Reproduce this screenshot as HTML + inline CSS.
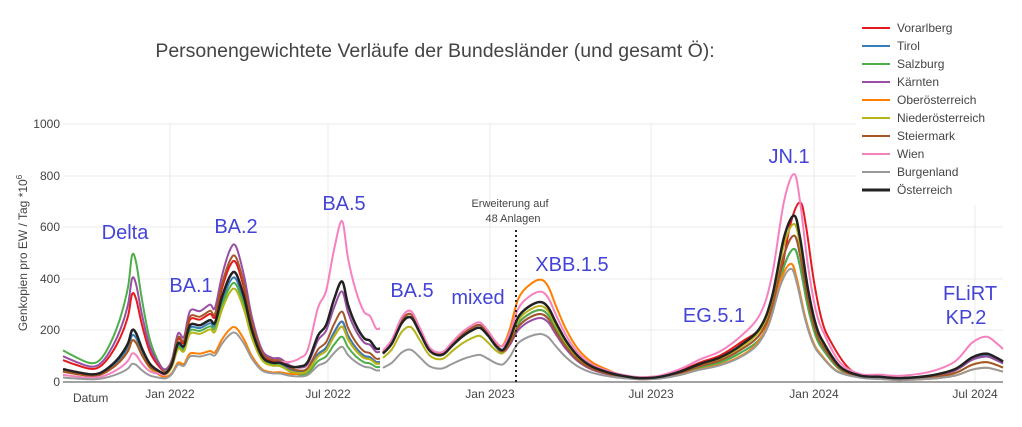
<!DOCTYPE html>
<html><head><meta charset="utf-8"><style>
body{margin:0;background:#fff;width:1022px;height:422px;overflow:hidden}
svg text{font-family:"Liberation Sans","DejaVu Sans",sans-serif}
</style></head><body>
<svg id="s" width="1022" height="422" xmlns="http://www.w3.org/2000/svg">
<rect width="1022" height="422" fill="#fff"/>
<g stroke="#ebebeb" stroke-width="1">
<line x1="63" x2="1003" y1="124" y2="124"/><line x1="63" x2="1003" y1="176" y2="176"/>
<line x1="63" x2="1003" y1="227" y2="227"/><line x1="63" x2="1003" y1="279" y2="279"/>
<line x1="63" x2="1003" y1="330" y2="330"/>
<line x1="170" x2="170" y1="124" y2="382"/><line x1="328" x2="328" y1="124" y2="382"/>
<line x1="490" x2="490" y1="124" y2="382"/><line x1="651" x2="651" y1="124" y2="382"/>
<line x1="814" x2="814" y1="124" y2="382"/><line x1="975" x2="975" y1="124" y2="382"/>
</g>
<line x1="63" x2="1003" y1="382" y2="382" stroke="#444" stroke-width="1"/>
<g id="series" fill="none" stroke-width="2" stroke-linejoin="round"></g>
<line x1="516" x2="516" y1="230" y2="382" stroke="#222" stroke-width="2" stroke-dasharray="2,3"/>
<g font-size="12" fill="#444" text-anchor="end">
<text x="60" y="386">0</text><text x="60" y="334">200</text><text x="60" y="283">400</text>
<text x="60" y="231">600</text><text x="60" y="180">800</text><text x="60" y="128">1000</text>
</g>
<g font-size="12" fill="#444" text-anchor="middle">
<text x="170" y="398">Jan 2022</text><text x="328" y="398">Jul 2022</text>
<text x="490" y="398">Jan 2023</text><text x="651" y="398">Jul 2023</text>
<text x="814" y="398">Jan 2024</text><text x="975" y="398">Jul 2024</text>
</g>
<text x="73" y="402" font-size="12" fill="#444">Datum</text>
<text transform="translate(27,253) rotate(-90)" font-size="12" fill="#444" text-anchor="middle">Genkopien pro EW / Tag *10<tspan dy="-5" font-size="8">6</tspan></text>
<text x="435" y="57" font-size="19.5" fill="#444" text-anchor="middle">Personengewichtete Verläufe der Bundesländer (und gesamt Ö):</text>
<g font-size="20" fill="#4343d8" text-anchor="middle">
<text x="125" y="239">Delta</text><text x="191" y="292">BA.1</text><text x="236" y="233">BA.2</text>
<text x="344" y="210">BA.5</text><text x="412" y="297">BA.5</text><text x="478" y="304">mixed</text>
<text x="572" y="271">XBB.1.5</text><text x="789" y="163">JN.1</text><text x="714" y="322">EG.5.1</text>
<text x="970" y="300">FLiRT</text><text x="966" y="324">KP.2</text>
</g>
<g font-size="11" fill="#444" text-anchor="middle">
<text x="510" y="207">Erweiterung auf</text><text x="513" y="222">48 Anlagen</text>
</g>
<rect x="856" y="15" width="147" height="190" fill="#fff"/>
<g id="legend" font-size="12" fill="#444"></g>
</svg>
<script>
var base=[[63,50],[75,40],[90,30],[100,35],[110,60],[120,100],[128,150],[132,200],[136,190],[142,130],[150,70],[160,40],[166,35],[172,70],[178,150],[184,140],[190,220],[200,220],[210,240],[215,230],[222,330],[230,410],[236,420],[244,330],[252,200],[262,100],[272,75],[280,75],[290,60],[300,60],[308,80],[318,180],[326,220],[334,320],[342,390],[348,300],[356,220],[364,170],[370,160],[376,130],[380,130],null,
[383,110],[392,150],[402,230],[411,250],[420,190],[430,120],[442,105],[452,140],[462,175],[472,200],[480,210],[488,180],[496,140],[503,125],[510,170],[518,250],[528,290],[540,310],[548,290],[556,230],[566,160],[578,100],[592,60],[610,35],[625,22],[640,15],[660,20],[680,40],[700,70],[720,95],[740,140],[760,210],[772,330],[784,560],[794,645],[800,560],[808,360],[816,220],[824,150],[840,60],[860,25],[880,20],[900,15],[930,25],[955,50],[972,95],[986,110],[996,95],[1003,80]];
var bounds=[160,290,381,503,620,880];
var S=[
["Vorarlberg","#e41a1c",[1.7,1.1,0.6,1.0,0.9,1.08,1.0],6],
["Tirol","#377eb8",[0.9,0.95,0.6,1.0,0.85,0.8,0.95],0],
["Salzburg","#4daf4a",[2.45,0.9,0.45,1.0,0.9,0.8,0.9],0],
["Kärnten","#984ea3",[2.0,1.25,0.9,1.05,0.8,0.88,0.9],0],
["Oberösterreich","#ff7f00",[0.8,0.5,0.55,1.0,1.28,0.71,0.5],-3],
["Niederösterreich","#b5b51a",[0.8,0.85,0.55,0.85,0.95,0.95,0.7],0],
["Steiermark","#a65628",[0.8,1.15,0.7,1.05,0.85,0.88,0.7],0],
["Wien","#f781bf",[0.55,1.0,1.6,1.1,1.13,1.25,1.6],0],
["Burgenland","#999999",[0.35,0.45,0.35,0.5,0.6,0.68,0.5],-3],
["Österreich","#222222",[1,1,1,1,1,1,1],0]];
function fac(f,x){var w=0;while(w<bounds.length&&x>bounds[w])w++;var v=f[w];
for(var i=0;i<bounds.length;i++){var d=x-bounds[i];if(Math.abs(d)<12&&i!=2){var t=(d+12)/24;return f[i]*(1-t)+f[i+1]*t;}}return v;}
function Y(v){return 382-v*0.258;}
function path(pts){var d="";for(var i=0;i<pts.length;i++){var p=pts[i];if(i==0){d+="M"+p[0]+","+p[1];continue;}
var p0=pts[i-2]||pts[i-1],p1=pts[i-1],p3=pts[i+1]||p;
var c1x=p1[0]+(p[0]-p0[0])/6,c1y=p1[1]+(p[1]-p0[1])/6,c2x=p[0]-(p3[0]-p1[0])/6,c2y=p[1]-(p3[1]-p1[1])/6;
d+=" C"+c1x.toFixed(1)+","+c1y.toFixed(1)+" "+c2x.toFixed(1)+","+c2y.toFixed(1)+" "+p[0]+","+p[1].toFixed(1);}return d;}
var g=document.getElementById("series"),lg=document.getElementById("legend"),NS="http://www.w3.org/2000/svg";
S.forEach(function(s,k){var segs=[[]];base.forEach(function(b){if(!b){segs.push([]);return;}
var x=b[0];var v=b[1]*fac(s[2],x);if(x>740&&x<860)x+=s[3];
segs[segs.length-1].push([x,Y(v)]);});
segs.forEach(function(pts){var p=document.createElementNS(NS,"path");p.setAttribute("d",path(pts));p.setAttribute("stroke",s[1]);if(k==9)p.setAttribute("stroke-width","2.5");g.appendChild(p);});
var y=28+k*18;var l=document.createElementNS(NS,"line");l.setAttribute("x1",862);l.setAttribute("x2",890);l.setAttribute("y1",y);l.setAttribute("y2",y);l.setAttribute("stroke",s[1]);l.setAttribute("stroke-width",k==9?3:2);lg.appendChild(l);
var t=document.createElementNS(NS,"text");t.setAttribute("x",897);t.setAttribute("y",y+4);t.textContent=s[0];lg.appendChild(t);});
</script>
</body></html>
